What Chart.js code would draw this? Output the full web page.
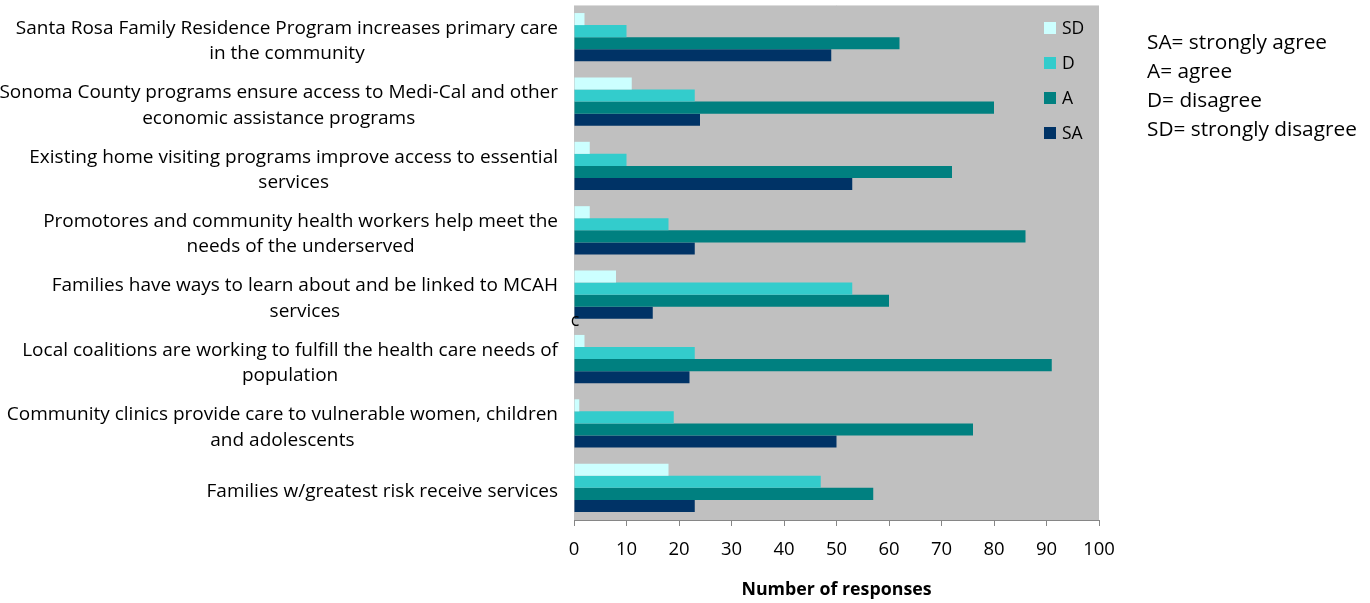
<!DOCTYPE html>
<html lang="en">
<head>
<meta charset="UTF-8">
<title>Survey responses</title>
<script src="https://cdn.jsdelivr.net/npm/chart.js"></script>
<style>
  html, body { margin: 0; padding: 0; background: #fff; }
  #wrap { width: 1370px; height: 603px; position: relative; }
</style>
</head>
<body>
<div id="wrap"><canvas id="chart" width="1370" height="603"></canvas></div>
<script>
// statements, one per row (each entry is the wrapped lines of the label)
const statements = [
  ['Santa Rosa Family Residence Program increases primary care', 'in the community'],
  ['Sonoma County programs ensure access to Medi-Cal and other', 'economic assistance programs'],
  ['Existing home visiting programs improve access to essential', 'services'],
  ['Promotores and community health workers help meet the', 'needs of the underserved'],
  ['Families have ways to learn about and be linked to MCAH', 'services'],
  ['Local coalitions are working to fulfill the health care needs of', 'population'],
  ['Community clinics provide care to vulnerable women, children', 'and adolescents'],
  ['Families w/greatest risk receive services']
];

// response counts per statement
const stronglyDisagree = [2, 11, 3, 3, 8, 2, 1, 18];
const disagree         = [10, 23, 10, 18, 53, 23, 19, 47];
const agree            = [62, 80, 72, 86, 60, 91, 76, 57];
const stronglyAgree    = [49, 24, 53, 23, 15, 22, 50, 23];

const axisMin = 0;
const axisMax = 100;
const axisStep = 10;

const keyLines = ['SA= strongly agree', 'A= agree', 'D= disagree', 'SD= strongly disagree'];

const FONT = '"Open Sans", Lato, sans-serif';

// gray plot background + thin light top edge
const plotBackground = {
  id: 'plotBackground',
  beforeDatasetsDraw(chart) {
    const { ctx, chartArea: a } = chart;
    ctx.save();
    ctx.fillStyle = '#c0c0c0';
    ctx.fillRect(a.left, a.top, a.right - a.left, a.bottom - a.top);
    ctx.strokeStyle = '#dcdcdc';
    ctx.lineWidth = 1;
    ctx.beginPath();
    ctx.moveTo(a.left, a.top + 0.5);
    ctx.lineTo(a.right, a.top + 0.5);
    ctx.stroke();
    ctx.restore();
  }
};

// category labels: each block centred on itself, right edge against the axis
const categoryLabels = {
  id: 'categoryLabels',
  afterDraw(chart) {
    const { ctx } = chart;
    const y = chart.scales.y;
    const rightEdge = chart.chartArea.left - 16;
    const lineH = 25.5;
    ctx.save();
    ctx.font = '19px ' + FONT;
    ctx.fillStyle = '#000';
    ctx.textAlign = 'center';
    ctx.textBaseline = 'middle';
    statements.forEach((lines, i) => {
      const cy = y.getPixelForTick(i);
      const w = Math.max(...lines.map(l => ctx.measureText(l).width));
      const cx = rightEdge - w / 2;
      const y0 = cy - (lines.length - 1) * lineH / 2 + 4;
      lines.forEach((l, k) => ctx.fillText(l, cx, y0 + k * lineH));
    });
    ctx.restore();
  }
};

// legend inside the plot area, plus the abbreviation key to the right
const sideNotes = {
  id: 'sideNotes',
  afterDraw(chart) {
    const { ctx, chartArea: a } = chart;
    ctx.save();
    ctx.textBaseline = 'middle';
    ctx.textAlign = 'left';
    ctx.font = '17.5px ' + FONT;
    const ds = chart.data.datasets;
    ds.forEach((d, i) => {
      const cy = 28 + i * 35;
      ctx.fillStyle = d.backgroundColor;
      ctx.fillRect(a.right - 55, cy - 6, 12, 12);
      ctx.fillStyle = '#000';
      ctx.fillText(d.label, a.right - 37, cy + 1);
    });
    ctx.font = '20.8px ' + FONT;
    keyLines.forEach((t, i) => ctx.fillText(t, a.right + 48, 43 + i * 29));
    // stray character beside the axis
    ctx.font = '18px ' + FONT;
    ctx.textAlign = 'center';
    ctx.fillText('c', a.left + 1, 321);
    ctx.restore();
  }
};

const ctx = document.getElementById('chart').getContext('2d');
new Chart(ctx, {
  type: 'bar',
  data: {
    labels: statements,
    datasets: [
      { label: 'SD', data: stronglyDisagree, backgroundColor: '#ccffff' },
      { label: 'D',  data: disagree,         backgroundColor: '#33cccc' },
      { label: 'A',  data: agree,            backgroundColor: '#008080' },
      { label: 'SA', data: stronglyAgree,    backgroundColor: '#003366' }
    ]
  },
  options: {
    indexAxis: 'y',
    responsive: false,
    animation: false,
    layout: { padding: { top: 5, right: 271, left: 0, bottom: 0 } },
    datasets: { bar: { categoryPercentage: 0.75, barPercentage: 1.0, borderWidth: 0 } },
    plugins: { legend: { display: false }, tooltip: { enabled: false } },
    scales: {
      x: {
        min: axisMin,
        max: axisMax,
        ticks: { stepSize: axisStep, color: '#000', font: { family: FONT, size: 18.5 }, padding: 13, maxRotation: 0 },
        grid: { drawOnChartArea: false, drawTicks: true, tickLength: 6, color: '#868686' },
        border: { display: true, color: '#868686' },
        title: { display: true, text: 'Number of responses', color: '#000', font: { family: FONT, size: 17.8, weight: 'bold' }, padding: { top: 0, bottom: 2 } },
        afterFit(scale) { scale.height = 83; }
      },
      y: {
        ticks: { display: false },
        grid: { display: false },
        border: { display: true, color: '#868686' },
        afterFit(scale) { scale.width = 574; }
      }
    }
  },
  plugins: [plotBackground, categoryLabels, sideNotes]
});
</script>
</body>
</html>
